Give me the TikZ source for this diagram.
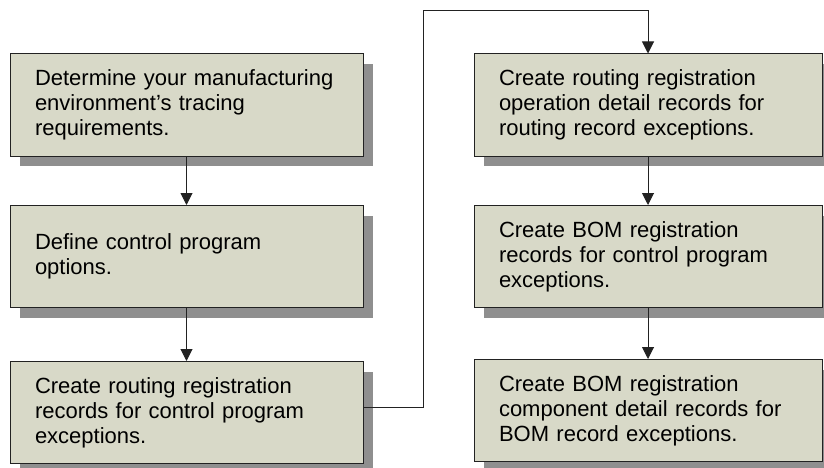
\documentclass[tikz,border=0pt]{standalone}
\usepackage{fontspec}
\setmainfont{Liberation Sans}
\usetikzlibrary{arrows.meta,shadows}
\definecolor{boxfill}{HTML}{D8D9C8}
\definecolor{shade}{HTML}{8F8F8F}
\definecolor{edge}{HTML}{222222}
\tikzset{sc/.style={x=1pt,y=-1pt,line width=1pt,font=\fontsize{22}{25}\selectfont},
  stepbox/.style={draw=edge,fill=boxfill,minimum height=102pt,text width=303pt,inner xsep=25pt,align=left,
    drop shadow={shadow xshift=10pt,shadow yshift=-10pt,fill=shade,opacity=1}},
  flow/.style={edge,-{Triangle[width=12pt,length=12pt]}}}

\begin{document}
\begin{tikzpicture}[sc]
  \useasboundingbox (0,0) rectangle (824,468);
  % left column
  \node[stepbox] (env) at (186.5,105) {Determine your manufacturing\\environment’s tracing\\requirements.};
  \node[stepbox] (opts) at (186.5,256.5) {Define control program\\options.};
  \node[stepbox] (rtg) at (186.5,412.5) {Create routing registration\\records for control program\\exceptions.};
  % right column
  \node[stepbox,text width=298pt] (oper) at (648,105) {Create routing registration\\operation detail records for\\routing record exceptions.};
  \node[stepbox,text width=298pt] (bomreg) at (648,256.5) {Create BOM registration\\records for control program\\exceptions.};
  \node[stepbox,text width=298pt] (comp) at (648,410.5) {Create BOM registration\\component detail records for\\BOM record exceptions.};
  \draw[flow] (env) -- (opts);
  \draw[flow] (opts) -- (rtg);
  \coordinate (turn) at (423,11);
  \draw[flow] ([yshift=5pt]rtg.east) -| (turn) -| (oper.north);
  \draw[flow] (oper) -- (bomreg);
  \draw[flow] (bomreg) -- (comp);
\end{tikzpicture}
\end{document}
